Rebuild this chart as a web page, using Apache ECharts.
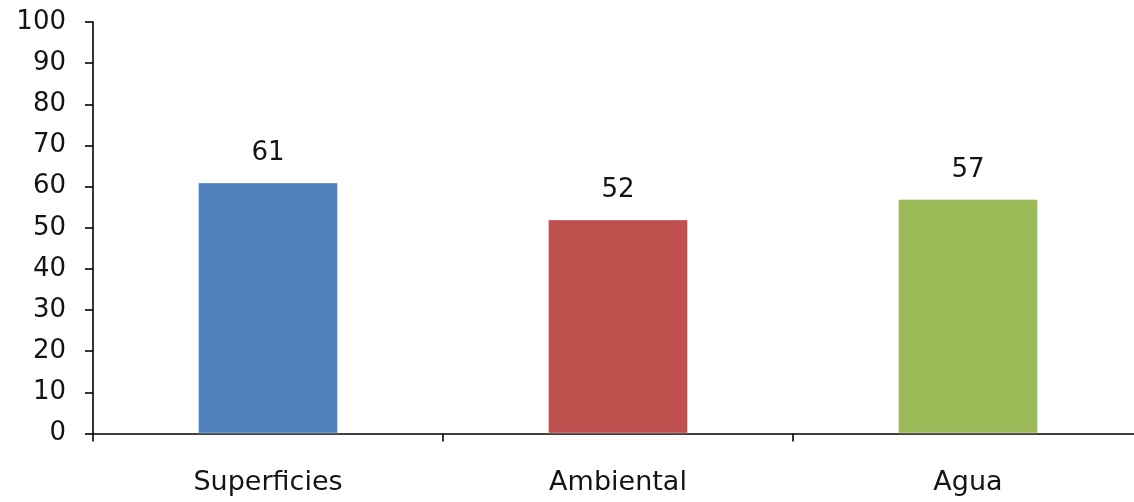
<!DOCTYPE html>
<html>
<head>
<meta charset="utf-8">
<script src="https://cdn.jsdelivr.net/npm/echarts@6/dist/echarts.min.js"></script>
<style>
  html, body { margin: 0; padding: 0; background: #fff; overflow: hidden; }
  /* the drawing surface is slightly wider than the window, so the x axis runs off the right edge */
  #chart { width: 1143px; height: 502px; }
</style>
</head>
<body>
<div id="chart"></div>
<script>
// Categories and values for the bar chart
const categories = ['Superficies', 'Ambiental', 'Agua'];
const values = [61, 52, 57];
const barColors = ['#4F81BD', '#C0504D', '#9BBB59'];
const yTicks = { min: 0, max: 100, step: 10 };

const textColor = '#141414';
const fontFamily = '"DejaVu Sans", Verdana, sans-serif';

const chart = echarts.init(document.getElementById('chart'), null, { renderer: 'canvas' });

chart.setOption({
  animation: false,
  backgroundColor: '#ffffff',
  grid: { left: 93, right: 0, top: 22, bottom: 68.5, containLabel: false },
  xAxis: {
    type: 'category',
    data: categories,
    boundaryGap: true,
    axisLine: { show: true, lineStyle: { color: '#000', width: 1.6 } },
    axisTick: { show: true, length: 8, alignWithLabel: false, lineStyle: { color: '#000', width: 1.6 } },
    axisLabel: { color: textColor, fontSize: 27, fontFamily: fontFamily, margin: 36 },
    splitLine: { show: false }
  },
  yAxis: {
    type: 'value',
    min: yTicks.min,
    max: yTicks.max,
    interval: yTicks.step,
    axisLine: { show: true, lineStyle: { color: '#000', width: 1.6 } },
    axisTick: { show: true, length: 8, lineStyle: { color: '#000', width: 1.6 } },
    axisLabel: { color: textColor, fontSize: 26, fontFamily: fontFamily, margin: 27 },
    splitLine: { show: false }
  },
  series: [{
    type: 'bar',
    barWidth: '40%',
    data: values.map((v, i) => ({ value: v, itemStyle: { color: barColors[i] } })),
    itemStyle: { borderColor: 'rgba(255,255,255,0.35)', borderWidth: 1 },
    label: {
      show: true,
      position: 'top',
      distance: 16,
      color: textColor,
      fontSize: 26,
      fontFamily: fontFamily
    }
  }]
});
</script>
</body>
</html>
